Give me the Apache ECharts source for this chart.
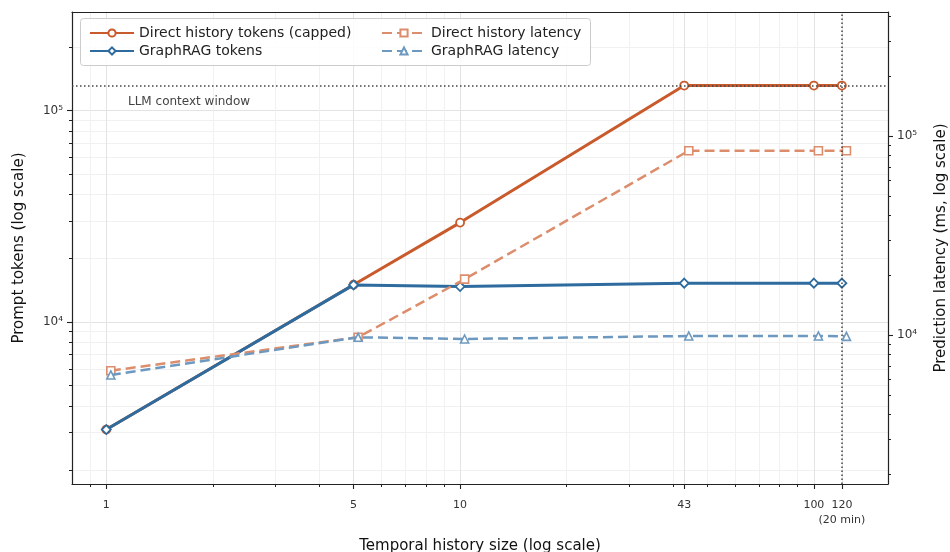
<!DOCTYPE html>
<html><head><meta charset="utf-8">
<script src="https://cdn.jsdelivr.net/npm/echarts@6/dist/echarts.min.js"></script>
<style>html,body{margin:0;padding:0;background:#fff}#c{width:950px;height:552px}</style>
</head><body><div id="c"></div>
<script>
// ---- data ----
const historySizes = [1, 5, 10, 43, 100, 120];
const latencyX = [1.03, 5.15, 10.3, 44.3, 103, 123.6];
const directTokens = [3100, 15000, 29500, 131072, 131072, 131072];
const graphragTokens = [3100, 14970, 14700, 15260, 15260, 15260];
const directLatency = [6620, 9740, 19100, 84400, 84400, 84400];
const graphragLatency = [6300, 9740, 9550, 9890, 9890, 9850];
const xTickValues = [1, 5, 10, 43, 100, 120];
const xTickLabels = ['1', '5', '10', '43', '100', '120\n(20 min)'];
const xMinorTicks = [0.9, 2, 3, 4, 6, 7, 8, 9, 20, 30, 40, 50, 60, 70, 80, 90];
const yMajorTicks = [10000, 100000];
const yMajorLabels = ['10⁴', '10⁵'];
const yLeftMinor = [2000, 3000, 4000, 5000, 6000, 7000, 8000, 9000, 20000, 30000, 40000, 50000, 60000, 70000, 80000, 90000, 200000];
const yRightMinor = [2000, 3000, 4000, 5000, 6000, 7000, 8000, 9000, 20000, 30000, 40000, 50000, 60000, 70000, 80000, 90000, 200000, 300000, 400000];
const contextWindow = 131072;
const contextLabel = 'LLM context window';
const windowMarker = 120;
const seriesNames = ['Direct history tokens (capped)', 'GraphRAG tokens', 'Direct history latency', 'GraphRAG latency'];

// ---- styling ----
const FONT = 'DejaVu Sans';
const ORANGE = '#c95a2b';
const BLUE = '#2e6b9e';
const ORANGE_L = '#dc8d6c';
const BLUE_L = '#6d99c0';
const X_MIN = 0.8, X_MAX = 162;
const YL_MIN = 1714, YL_MAX = 292000;
const YR_MIN = 1784, YR_MAX = 420000;

function pick(vals, labels, v) {
  for (let i = 0; i < vals.length; i++) {
    if (Math.abs(Math.log10(v) - Math.log10(vals[i])) < 1e-4) return labels[i];
  }
  return '';
}
const pairs = (xs, ys) => xs.map((x, i) => [x, ys[i]]);
// labels split over two axes so that the wide last label does not hide its neighbour
const xLabelsA = xTickValues.filter((v, i) => i % 2 === 0);
const xLabelsB = xTickValues.filter((v, i) => i % 2 === 1);

const axisLineStyle = { color: '#222', width: 1.2 };
const xLabelStyle = {
  formatter: v => pick(xTickValues, xTickLabels, v),
  fontSize: 11, color: '#333', margin: 14, lineHeight: 15, fontFamily: FONT,
  hideOverlap: false, interval: 0
};
const minorAxis = (pos, min, max, ticks, grid) => ({
  type: 'log', logBase: 10, position: pos, min: min, max: max,
  axisLine: { show: false, onZero: false },
  axisTick: { show: true, customValues: ticks, length: 3, lineStyle: { color: '#222', width: 1 } },
  axisLabel: { show: false },
  splitLine: { show: grid, lineStyle: { color: '#f1f1f1', width: 1 } }
});

const xMinorAxis = minorAxis('bottom', X_MIN, X_MAX, xMinorTicks, true);
xMinorAxis.axisLabel = Object.assign({ show: true, customValues: xLabelsB }, xLabelStyle);

const chart = echarts.init(document.getElementById('c'), null, { renderer: 'canvas' });
chart.setOption({
  animation: false,
  backgroundColor: '#fff',
  textStyle: { fontFamily: FONT },
  grid: { left: 72, right: 62, top: 12, bottom: 68, containLabel: false, outerBoundsMode: 'none' },
  xAxis: [
    {
      type: 'log', logBase: 10, position: 'bottom', min: X_MIN, max: X_MAX,
      axisLine: { show: true, onZero: false, lineStyle: axisLineStyle },
      axisTick: { show: true, customValues: xTickValues, length: 5, lineStyle: { color: '#222', width: 1.1 } },
      axisLabel: Object.assign({ customValues: xLabelsA }, xLabelStyle),
      splitLine: { show: true, lineStyle: { color: '#e3e3e3', width: 1 } },
      name: 'Temporal history size (log scale)', nameLocation: 'middle', nameGap: 55,
      nameTextStyle: { fontSize: 15, color: '#111', fontFamily: FONT }
    },
    xMinorAxis,
    {
      type: 'log', logBase: 10, position: 'top', min: X_MIN, max: X_MAX,
      axisLine: { show: true, onZero: false, lineStyle: axisLineStyle },
      axisTick: { show: false }, axisLabel: { show: false }, splitLine: { show: false }
    }
  ],
  yAxis: [
    {
      type: 'log', logBase: 10, position: 'left', min: YL_MIN, max: YL_MAX,
      axisLine: { show: true, onZero: false, lineStyle: axisLineStyle },
      axisTick: { show: true, customValues: yMajorTicks, length: 5, lineStyle: { color: '#222', width: 1.1 } },
      axisLabel: { customValues: yMajorTicks, formatter: v => pick(yMajorTicks, yMajorLabels, v),
        fontSize: 12, color: '#333', margin: 9, fontFamily: FONT },
      splitLine: { show: true, lineStyle: { color: '#e3e3e3', width: 1 } },
      name: 'Prompt tokens (log scale)', nameLocation: 'middle', nameGap: 45,
      nameTextStyle: { fontSize: 15, color: '#111', fontFamily: FONT }
    },
    {
      type: 'log', logBase: 10, position: 'right', min: YR_MIN, max: YR_MAX,
      axisLine: { show: true, onZero: false, lineStyle: axisLineStyle },
      axisTick: { show: true, customValues: yMajorTicks, length: 5, lineStyle: { color: '#222', width: 1.1 } },
      axisLabel: { customValues: yMajorTicks, formatter: v => pick(yMajorTicks, yMajorLabels, v),
        fontSize: 12, color: '#333', margin: 9, fontFamily: FONT },
      splitLine: { show: false },
      name: 'Prediction latency (ms, log scale)', nameLocation: 'middle', nameGap: 46,
      nameTextStyle: { fontSize: 15, color: '#111', fontFamily: FONT }
    },
    minorAxis('left', YL_MIN, YL_MAX, yLeftMinor, true),
    minorAxis('right', YR_MIN, YR_MAX, yRightMinor, false)
  ],
  legend: [
    {
      data: [seriesNames[0], seriesNames[1]], orient: 'vertical', left: 84, top: 21,
      itemWidth: 44, itemHeight: 9, itemGap: 4,
      textStyle: { fontSize: 14, color: '#222', fontFamily: FONT, padding: [0, 0, 0, 0] }
    },
    {
      data: [seriesNames[2], seriesNames[3]], orient: 'vertical', left: 376, top: 21,
      itemWidth: 44, itemHeight: 9, itemGap: 4,
      textStyle: { fontSize: 14, color: '#222', fontFamily: FONT, padding: [0, 0, 0, 0] }
    }
  ],
  graphic: [
    { type: 'rect', left: 80, top: 18, z: 3, shape: { width: 510, height: 47, r: 3 },
      style: { fill: 'rgba(255,255,255,0.85)', stroke: '#cccccc', lineWidth: 1 } },
    { type: 'text', left: 128, top: 96, z: 5,
      style: { text: contextLabel, fill: '#444', font: '12px "DejaVu Sans"' } }
  ],
  series: [
    {
      name: seriesNames[0], type: 'line', xAxisIndex: 0, yAxisIndex: 0, z: 2,
      data: pairs(historySizes, directTokens), color: ORANGE,
      symbol: 'circle', symbolSize: 8, showAllSymbol: true,
      lineStyle: { color: ORANGE, width: 3 },
      itemStyle: { color: '#fff', borderColor: ORANGE, borderWidth: 1.8 },
      markLine: {
        silent: true, symbol: 'none', animation: false,
        label: { show: false },
        lineStyle: { color: '#444', width: 1.5, type: [1.5, 2.5] },
        data: [{ yAxis: contextWindow }, { xAxis: windowMarker }]
      }
    },
    {
      name: seriesNames[1], type: 'line', xAxisIndex: 0, yAxisIndex: 0, z: 3,
      data: pairs(historySizes, graphragTokens), color: BLUE,
      symbol: 'diamond', symbolSize: 9, showAllSymbol: true,
      lineStyle: { color: BLUE, width: 3 },
      itemStyle: { color: '#fff', borderColor: BLUE, borderWidth: 1.8 }
    },
    {
      name: seriesNames[2], type: 'line', xAxisIndex: 0, yAxisIndex: 1, z: 4,
      data: pairs(latencyX, directLatency), color: ORANGE_L,
      symbol: 'rect', symbolSize: 8, showAllSymbol: true,
      lineStyle: { color: ORANGE_L, width: 2.5, type: [10, 5] },
      itemStyle: { color: '#fff', borderColor: ORANGE_L, borderWidth: 1.6 }
    },
    {
      name: seriesNames[3], type: 'line', xAxisIndex: 0, yAxisIndex: 1, z: 5,
      data: pairs(latencyX, graphragLatency), color: BLUE_L,
      symbol: 'triangle', symbolSize: 8, showAllSymbol: true,
      lineStyle: { color: BLUE_L, width: 2.5, type: [10, 5] },
      itemStyle: { color: '#fff', borderColor: BLUE_L, borderWidth: 1.6 }
    }
  ]
});
</script>
</body></html>
